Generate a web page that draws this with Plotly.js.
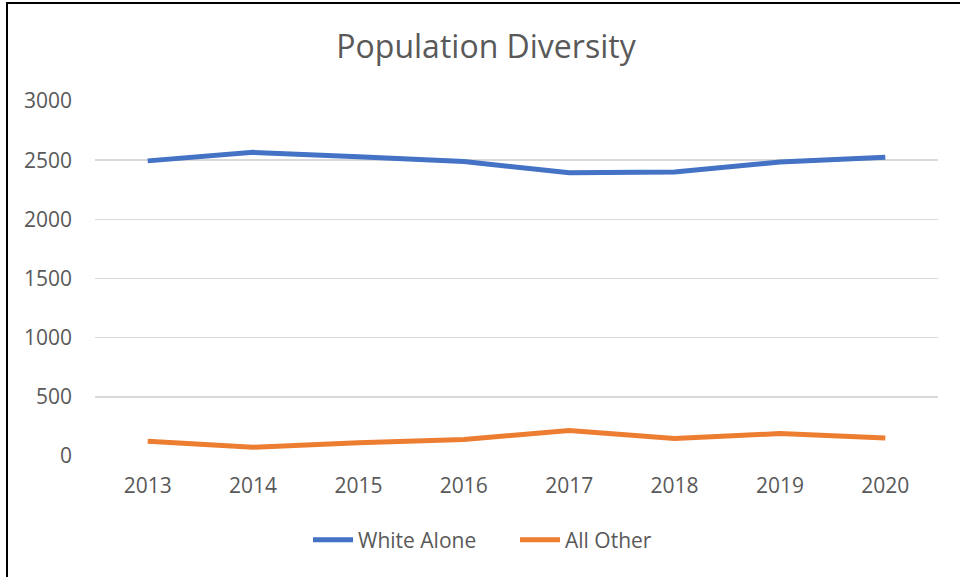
<!DOCTYPE html>
<html>
<head>
<meta charset="utf-8">
<script src="https://cdn.plot.ly/plotly-3.0.1.min.js"></script>
<style>
  html, body { margin: 0; padding: 0; background: #fff; }
  #wrap { position: relative; width: 960px; height: 577px; overflow: hidden; }
  #chart { position: absolute; left: 0; top: 0; width: 960px; height: 577px; }
  #frame { position: absolute; left: 6px; top: 2px; width: 960px; height: 600px;
           border-left: 2px solid #000; border-top: 2px solid #000; pointer-events: none; }
</style>
</head>
<body>
<div id="wrap">
  <div id="chart"></div>
  <div id="frame"></div>
</div>
<script>
const years = ['2013', '2014', '2015', '2016', '2017', '2018', '2019', '2020'];
const whiteAlone = [2494, 2566, 2528, 2488, 2394, 2400, 2485, 2525];
const allOther = [124, 74, 113, 139, 215, 147, 190, 152];
const yTicks = [0, 500, 1000, 1500, 2000, 2500, 3000];

const textColor = '#595959';
const fontFamily = '"Open Sans", "Liberation Sans", sans-serif';

const traces = [
  {
    x: years, y: whiteAlone, name: 'White Alone', type: 'scatter', mode: 'lines',
    line: { color: '#4472C4', width: 5, shape: 'linear' }
  },
  {
    x: years, y: allOther, name: 'All Other', type: 'scatter', mode: 'lines',
    line: { color: '#ED7D31', width: 5, shape: 'linear' }
  }
];

const layout = {
  width: 960, height: 577,
  paper_bgcolor: '#ffffff', plot_bgcolor: '#ffffff',
  margin: { l: 95, r: 22, t: 101, b: 121 },
  font: { family: fontFamily, size: 21, color: textColor },
  title: {
    text: 'Population Diversity',
    font: { family: fontFamily, size: 32, color: textColor },
    x: 486 / 960, xanchor: 'center', xref: 'container',
    y: 1 - 47 / 577, yanchor: 'middle', yref: 'container'
  },
  xaxis: {
    type: 'category', range: [-0.5, 7.5],
    showgrid: false, zeroline: false, showline: false, ticks: '',
    tickfont: { family: fontFamily, size: 21, color: textColor },
    ticklabelstandoff: 15, fixedrange: true
  },
  yaxis: {
    range: [0, 3000], tickvals: yTicks, ticktext: yTicks.map(String),
    showgrid: true, gridcolor: '#d9d9d9', gridwidth: 1.5,
    zeroline: false, showline: false, ticks: '',
    tickfont: { family: fontFamily, size: 21, color: textColor },
    ticklabelstandoff: 22, fixedrange: true
  },
  showlegend: true,
  legend: {
    orientation: 'h', x: (308 - 95) / 843, xanchor: 'left', y: -0.237, yanchor: 'middle',
    font: { family: fontFamily, size: 21, color: textColor },
    itemwidth: 40, entrywidth: 152, entrywidthmode: 'pixels',
    bgcolor: 'rgba(0,0,0,0)'
  }
};

Plotly.newPlot('chart', traces, layout, { displayModeBar: false, staticPlot: true });
</script>
</body>
</html>
